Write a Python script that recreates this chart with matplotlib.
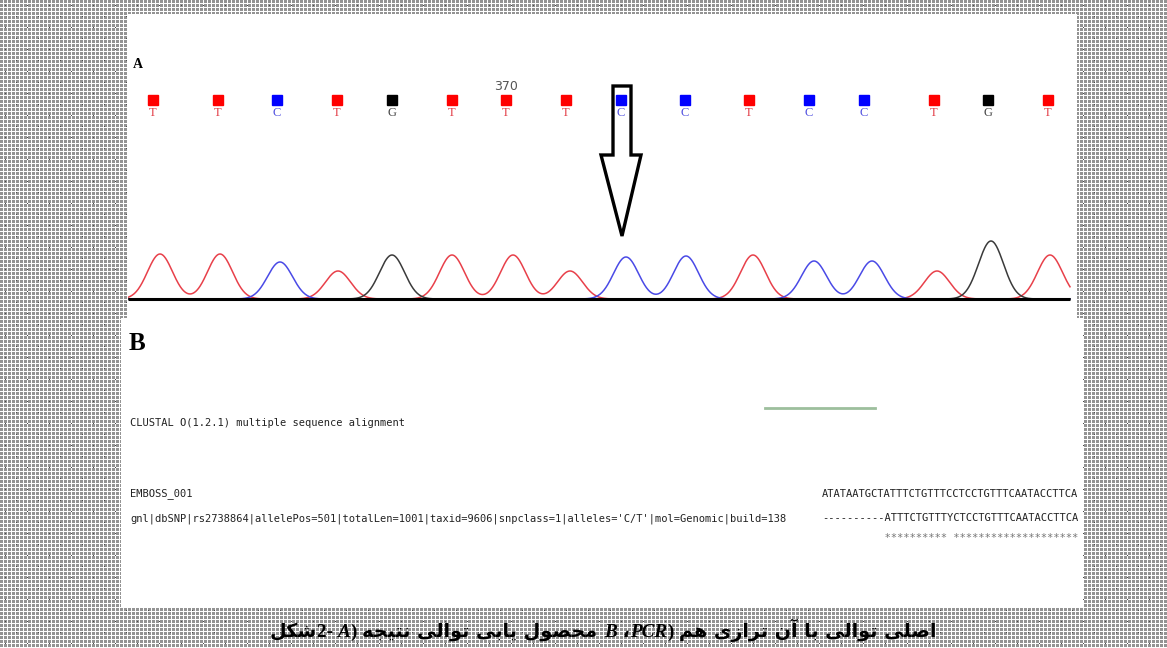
import unicodedata
import numpy as np
import matplotlib
matplotlib.use("Agg")
import matplotlib.pyplot as plt
from matplotlib.patches import Polygon

# base calls (panel A)
bases = list("TTCTGTTTCCTCCTGT")
call_pos = [153, 218, 277, 337, 392, 452, 506, 566, 621, 685, 749, 809, 864, 934, 988, 1048]
peak_pos = [160, 220, 280, 338, 392, 452, 513, 570, 626, 686, 753, 814, 872, 937, 991, 1050]
peak_height = [45, 45, 37, 28, 44, 44, 44, 28, 42, 43, 44, 38, 38, 28, 58, 44]
marked_index = 6      # "370"
marked_label = "370"
snp_index = 8         # arrow

# alignment text (panel B)
clustal_title = "CLUSTAL O(1.2.1) multiple sequence alignment"
seq_names = ["EMBOSS_001",
             "gnl|dbSNP|rs2738864|allelePos=501|totalLen=1001|taxid=9606|snpclass=1|alleles='C/T'|mol=Genomic|build=138"]
seqs = ["ATATAATGCTATTTCTGTTTCCTCCTGTTTCAATACCTTCA",
        "----------ATTTCTGTTTYCTCCTGTTTCAATACCTTCA"]
consensus = "          ********** ********************"

trace_col = {"T": "#e8404a", "C": "#4a4ae6", "G": "#3a3a3a", "A": "#2a9a2a"}
square_col = {"T": "#ff0000", "C": "#0000ff", "G": "#000000", "A": "#00a000"}
letter_col = {"T": "#e23a44", "C": "#5050e0", "G": "#444444", "A": "#2a9a2a"}

W, H = 1167, 648
fig = plt.figure(figsize=(W / 100, H / 100), dpi=100)

# patterned grey background
bg = np.ones((H, W))
yy, xx = np.mgrid[0:H, 0:W]
bg[(yy % 4 != 3) & (xx % 4 != 3)] = 0.58
bg[((yy % 22 == 5) & (xx % 22 == 5)) | ((yy % 22 == 16) & (xx % 22 == 16))] = 0.3
axbg = fig.add_axes([0, 0, 1, 1])
axbg.imshow(bg, cmap="gray", vmin=0, vmax=1, interpolation="nearest", aspect="auto")
axbg.set_axis_off()


def box(x0, y0, x1, y1):
    return [x0 / W, 1 - y1 / H, (x1 - x0) / W, (y1 - y0) / H]


# ---------------- panel A ----------------
axA = fig.add_axes(box(128, 14, 1077, 318))
axA.set_xlim(128, 1077)
axA.set_ylim(-19, 285)
axA.set_facecolor("white")
axA.set_axis_off()
axA.add_patch(plt.Rectangle((128, -19), 949, 304, color="white", zorder=0))

x = np.linspace(128, 1070, 2000)
sigma = 12.5
for b in "TCG":
    y = np.zeros_like(x)
    for p, h, base in zip(peak_pos, peak_height, bases):
        if base == b:
            y += h * np.exp(-(x - p) ** 2 / (2 * sigma ** 2))
    axA.plot(x, y, color=trace_col[b], lw=1.1, zorder=2)
axA.plot([128, 1070], [0, 0], color="black", lw=2.2, zorder=3, solid_capstyle="butt")

for p, b in zip(call_pos, bases):
    axA.plot(p, 199, marker="s", ms=6.5, color=square_col[b], mec=square_col[b], zorder=4)
    axA.text(p, 186, b, color=letter_col[b], ha="center", va="center",
             fontsize=9, family="Liberation Serif")
axA.text(call_pos[marked_index], 213, marked_label, color="#555555", ha="center",
         va="center", fontsize=9, family="DejaVu Sans")
axA.text(133, 234, "A", fontsize=10, fontweight="bold", family="Liberation Serif",
         va="center", ha="left")

cx = call_pos[snp_index]
arrow = Polygon([(cx - 8, 213), (cx + 10, 213), (cx + 10, 144), (cx + 20, 144),
                 (cx + 1, 63), (cx - 20, 144), (cx - 8, 144)],
                closed=True, facecolor="none", edgecolor="black", lw=2.4,
                joinstyle="miter", zorder=5)
axA.add_patch(arrow)

# ---------------- panel B ----------------
axB = fig.add_axes(box(121, 318, 1083, 608))
axB.set_xlim(0, 962)
axB.set_ylim(290, 0)
axB.set_axis_off()
axB.add_patch(plt.Rectangle((0, 0), 962, 290, color="white", zorder=0))

axB.text(8, 26, "B", fontsize=18, fontweight="bold", family="Liberation Serif",
         va="center", ha="left")
mono = dict(family="DejaVu Sans Mono", fontsize=7.5, color="#222222", va="center", ha="left")
axB.text(9, 105, clustal_title, **mono)
axB.text(9, 176, seq_names[0], **mono)
axB.text(9, 201, seq_names[1], **mono)
axB.text(701, 176, seqs[0], **mono)
axB.text(701, 200, seqs[1], **mono)
axB.text(701, 220, consensus, **dict(mono, color="#777777"))
axB.plot([644, 754], [90, 90], color="#9dbf9d", lw=2)


# ---------------- caption ----------------
def is_ar(c):
    return "\u0620" <= c <= "\u06ff" and unicodedata.name(c, "").startswith("ARABIC LETTER")


def dual(c):
    try:
        unicodedata.lookup(unicodedata.name(c) + " INITIAL FORM")
        return True
    except KeyError:
        return False


def shape(word):
    out = []
    for i, c in enumerate(word):
        if not is_ar(c):
            out.append(c)
            continue
        p = word[i - 1] if i > 0 else ""
        n = word[i + 1] if i + 1 < len(word) else ""
        pj = bool(p) and is_ar(p) and dual(p)
        nj = bool(n) and is_ar(n) and dual(c)
        form = "MEDIAL" if pj and nj else "FINAL" if pj else "INITIAL" if nj else "ISOLATED"
        try:
            out.append(unicodedata.lookup(f"{unicodedata.name(c)} {form} FORM"))
        except KeyError:
            out.append(c)
    return "".join(out)[::-1]


def fa(text):
    return " ".join(shape(w) for w in text.split(" "))


caption = [
    (fa("شکل"), "fa"), ("2- ", "lat"), ("A", "it"), (") ", "lat"),
    (fa("نتیجه توالی یابی محصول") + " ", "fa"), ("B", "it"), (" ،", "fa"),
    ("PCR", "it"), (") ", "lat"), (fa("هم ترازی آن با توالی اصلی"), "fa"),
]
styles = {
    "fa": dict(family=["DejaVu Sans"], fontweight="bold"),
    "lat": dict(family=["Liberation Serif"], fontweight="bold"),
    "it": dict(family=["Liberation Serif"], fontweight="bold", style="italic"),
}


def draw_caption(size, x0):
    r = fig.canvas.get_renderer()
    xs = x0
    arts = []
    for txt, st in caption:
        t = fig.text(xs / W, 1 - 637 / H, txt, fontsize=size, va="baseline",
                     ha="left", color="black", **styles[st])
        xs += t.get_window_extent(r).width
        arts.append(t)
    return arts, xs - x0


arts, tw = draw_caption(12, 0)
for a in arts:
    a.remove()
size = 12 * 663 / tw
arts, tw = draw_caption(size, 0)
for a in arts:
    a.remove()
draw_caption(size, 603 - tw / 2)

fig.savefig("out.png", dpi=100)
